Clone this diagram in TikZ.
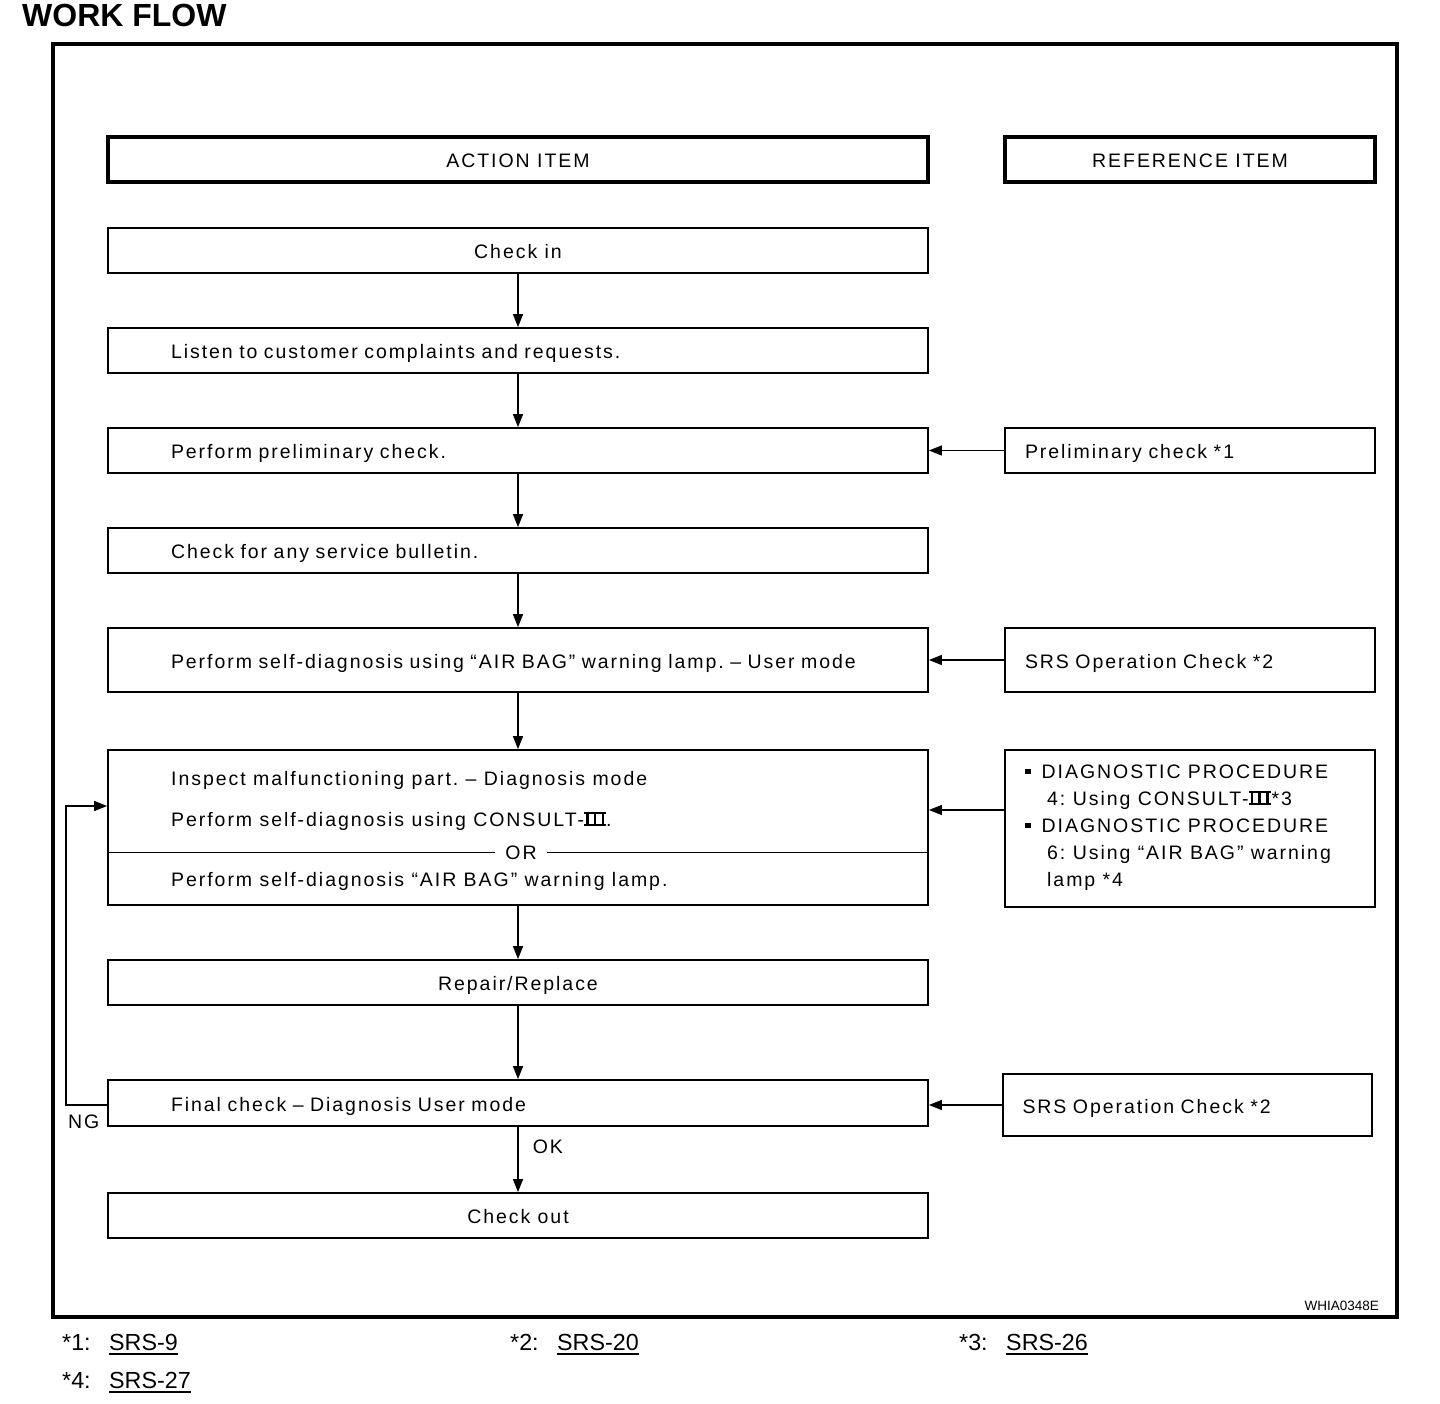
\documentclass[tikz,border=0pt]{standalone}
\usepackage{fontspec}
\setmainfont{Liberation Sans}[LetterSpace=10]
\newfontfamily\plainfont{Liberation Sans}
\usetikzlibrary{arrows.meta}
\frenchspacing
\newcommand\romIII{\mbox{\rlap{\rule{22pt}{1.8pt}}\rlap{\rule[12.2pt]{22pt}{1.8pt}}\hspace{2pt}\rule{2.6pt}{14pt}\hspace{5.1pt}\rule{2.6pt}{14pt}\hspace{5.1pt}\rule{2.6pt}{14pt}\hspace{2pt}}}
\newcommand\bul{\rule[4pt]{5.5pt}{5.5pt}}
\newcommand\ulink[1]{\leavevmode\vtop{\hbox{#1}\kern2.5pt\hrule height 2pt}}
\begin{document}
\begin{tikzpicture}[x=1pt,y=-1pt,
  txt/.style={font=\fontsize{19.5}{27}\selectfont},
  box/.style={draw, line width=1.8pt, rectangle, inner sep=0pt, minimum width=820pt, minimum height=45pt, text height=16pt, text depth=0pt, txt},
  lbox/.style={box, text width=694pt, align=left},
  cbox/.style={box, align=center},
  hbox/.style={draw, line width=3.5pt, rectangle, inner sep=0pt, minimum height=45pt, text height=16pt, text depth=0pt, txt},
  rbox/.style={draw, line width=1.8pt, rectangle, inner sep=0pt, minimum width=370pt, minimum height=45pt, text width=330pt, align=left, text height=16pt, text depth=0pt, txt},
  arr/.style={line width=1.5pt, -{Triangle[length=13pt,width=10pt]}},
  plain/.style={inner sep=0pt, text height=14pt, text depth=0pt, txt},
  foot/.style={inner sep=0pt, anchor=base west, font=\plainfont\fontsize{23.3}{28}\selectfont}
]
\useasboundingbox (0,0) rectangle (1440,1404);
\fill[white] (0,0) rectangle (1440,1404);

% title and frame
\node[inner sep=0pt, anchor=west, font=\plainfont\fontsize{32}{36}\bfseries] (title) at (22,15) {WORK FLOW};
\draw[line width=4pt] (53,44) rectangle (1397,1317);

% headers
\node[hbox, minimum width=820pt] (hact) at (518,159.5) {ACTION ITEM};
\node[hbox, minimum width=370pt] (href) at (1190,159.5) {REFERENCE ITEM};

% action boxes
\node[cbox] (checkin) at (518,250.5) {Check in};
\node[lbox] (listen) at (518,350.5) {Listen to customer complaints and requests.};
\node[lbox] (prelim) at (518,450.5) {Perform preliminary check.};
\node[lbox] (bulletin) at (518,550.5) {Check for any service bulletin.};
\node[lbox, minimum height=64pt] (selfdiag) at (518,660) {Perform self-diagnosis using “AIR BAG” warning lamp. – User mode};
\node[box, minimum height=155pt] (insp) at (518,827.5) {};
\node[plain, anchor=west] (insp1) at (171,778) {Inspect malfunctioning part. – Diagnosis mode};
\node[plain, anchor=west] (insp2) at (171,819) {Perform self-diagnosis using CONSULT-\romIII.};
\node[plain, anchor=west] (insp3) at (171,879) {Perform self-diagnosis “AIR BAG” warning lamp.};
\node[plain, fill=white, inner xsep=10pt, inner ysep=2pt] (or) at (521,852) {OR};
\draw[line width=1pt] (insp.west |- or.west) -- (or.west);
\draw[line width=1pt] (or.east) -- (insp.east |- or.east);
\node[cbox] (repair) at (518,982.5) {Repair/Replace};
\node[lbox, minimum height=46pt] (final) at (518,1103) {Final check – Diagnosis User mode};
\node[cbox] (checkout) at (518,1215.5) {Check out};

% reference boxes
\node[rbox] (rprelim) at (1190,450.5) {Preliminary check *1};
\node[rbox, minimum height=64pt] (rsrs1) at (1190,660) {SRS Operation Check *2};
\node[rbox, minimum height=157pt] (rdiag) at (1190,828.5) {};
\node[inner sep=0pt, txt, anchor=base west, align=left] (rdiagtxt) at (1025,886) {\bul\hspace{11pt}DIAGNOSTIC PROCEDURE\\
\hspace*{22pt}4: Using CONSULT-\romIII\hspace{1pt}*3\\
\bul\hspace{11pt}DIAGNOSTIC PROCEDURE\\
\hspace*{22pt}6: Using “AIR BAG” warning\\
\hspace*{22pt}lamp *4};
\node[rbox, minimum width=369pt, minimum height=62pt] (rsrs2) at (1187.5,1105) {SRS Operation Check *2};

% main flow arrows
\draw[arr] (checkin.south) -- (listen.north);
\draw[arr] (listen.south) -- (prelim.north);
\draw[arr] (prelim.south) -- (bulletin.north);
\draw[arr] (bulletin.south) -- (selfdiag.north);
\draw[arr] (selfdiag.south) -- (insp.north);
\draw[arr] (insp.south) -- (repair.north);
\draw[arr] (repair.south) -- (final.north);
\draw[arr] (final.south) -- node[plain, right=14pt, pos=0.3] (ok) {OK} (checkout.north);

% reference arrows
\draw[arr] (rprelim.west) -- (prelim.east);
\draw[arr] (rsrs1.west) -- (selfdiag.east);
\coordinate (rdiagin) at (1005,810);
\draw[arr] (rdiagin) -- (rdiagin -| insp.east);
\draw[arr] (rsrs2.west) -- (rsrs2.west -| final.east);

% NG loop
\coordinate (ngout) at (108,1105);
\coordinate (ngcorner) at (66,806);
\draw[arr] (ngout) -- (ngcorner |- ngout) -- (ngcorner) -- (ngcorner -| insp.west);
\node[plain, anchor=west] (ng) at (68,1121) {NG};

% figure code
\node[inner sep=0pt, anchor=east, font=\plainfont\fontsize{13.5}{16}\selectfont] (code) at (1379,1306) {WHIA0348E};

% footnotes
\node[foot] (f1) at (62,1350) {*1:};
\node[foot] (l1) at (109,1350) {\ulink{SRS-9}};
\node[foot] (f2) at (510,1350) {*2:};
\node[foot] (l2) at (557,1350) {\ulink{SRS-20}};
\node[foot] (f3) at (959,1350) {*3:};
\node[foot] (l3) at (1006,1350) {\ulink{SRS-26}};
\node[foot] (f4) at (62,1388) {*4:};
\node[foot] (l4) at (109,1388) {\ulink{SRS-27}};
\end{tikzpicture}
\end{document}
